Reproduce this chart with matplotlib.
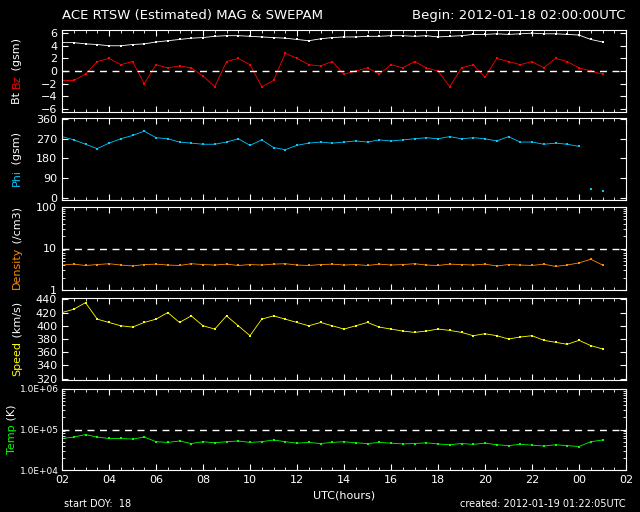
import numpy as np
import matplotlib
matplotlib.use("Agg")
import matplotlib.pyplot as plt
from matplotlib.ticker import FixedLocator, MultipleLocator, NullFormatter

hours = [i * 0.5 for i in range(47)]  # hours after 02 UTC
bt = [4.5,4.5,4.3,4.2,4.0,4.0,4.2,4.3,4.6,4.8,5.0,5.2,5.3,5.5,5.6,5.6,5.5,5.4,5.3,5.2,5.0,4.8,5.1,5.3,
      5.4,5.4,5.5,5.5,5.6,5.6,5.5,5.6,5.4,5.5,5.6,5.8,5.8,5.9,5.8,5.9,6.0,5.9,5.9,5.8,5.7,5.0,4.6]
bz = [-1.5,-1.5,-0.5,1.5,2.0,1.0,1.5,-2.0,1.0,0.5,0.8,0.5,-0.8,-2.5,1.5,2.0,1.0,-2.5,-1.5,2.8,2.0,1.0,0.8,1.5,
      -0.5,0.0,0.5,-0.5,1.0,0.5,1.5,0.5,0.0,-2.5,0.5,1.0,-1.0,2.0,1.5,1.0,1.5,0.5,2.0,1.5,0.5,0.0,-0.5]
phi = [280,265,245,225,250,270,285,305,275,270,255,250,245,245,255,270,240,265,230,220,240,250,255,250,
       255,260,255,265,260,265,270,275,270,280,270,275,270,260,280,255,255,245,250,245,235,40,30]
density = [4.0,4.2,3.9,4.1,4.3,4.0,3.8,4.1,4.2,4.0,3.9,4.3,4.1,4.0,4.2,3.9,4.1,4.0,4.2,4.3,4.0,3.9,4.1,4.2,
           4.0,4.1,3.9,4.2,4.0,4.1,4.3,4.0,3.9,4.2,4.1,4.0,4.2,3.8,4.1,4.0,3.9,4.2,3.7,4.0,4.5,5.5,4.0]
speed = [420,425,435,410,405,400,398,405,410,420,405,415,400,395,415,400,385,410,415,410,405,400,405,400,
         395,400,405,398,395,392,390,392,395,393,390,385,388,385,380,383,385,378,375,372,378,370,365]
temp = [6.0e4,6.5e4,7.5e4,6.5e4,6.0e4,6.0e4,5.8e4,6.5e4,5.0e4,4.8e4,5.2e4,4.5e4,5.0e4,4.7e4,5.0e4,5.2e4,
        4.8e4,5.0e4,5.5e4,5.0e4,4.6e4,4.8e4,4.5e4,4.8e4,5.0e4,4.7e4,4.5e4,4.8e4,4.6e4,4.4e4,4.5e4,4.7e4,
        4.4e4,4.2e4,4.5e4,4.3e4,4.6e4,4.2e4,4.0e4,4.3e4,4.1e4,3.9e4,4.2e4,4.0e4,3.8e4,5.0e4,5.5e4]
xticklabels = ["02","04","06","08","10","12","14","16","18","20","22","00","02"]

W, H = 640, 512
plt.rcParams["font.family"] = "DejaVu Sans"
fig = plt.figure(figsize=(6.4, 5.12), dpi=100, facecolor="black")
fs = 8

def mkax(top, bot):
    return fig.add_axes([62 / W, (H - bot) / H, 564 / W, (bot - top) / H], facecolor="black")

boxes = [(30, 112), (118, 200), (207, 290), (298, 380), (389, 470)]
axes = [mkax(t, b) for t, b in boxes]
for ax in axes:
    for s in ax.spines.values():
        s.set_color("white")
    ax.tick_params(colors="white", direction="in", top=True, right=True, labelsize=fs, which="both", length=4)
    ax.tick_params(which="minor", length=2)
    ax.set_xlim(0, 24)
    ax.set_xticks(np.arange(0, 25, 2))
    ax.xaxis.set_minor_locator(MultipleLocator(0.5))
    ax.set_xticklabels([])

ms = 2
a = axes[0]
a.plot(hours, bt, color="white", lw=0.6, marker="s", ms=ms, mew=0)
a.plot(hours, bz, color="red", lw=0.6, marker="s", ms=ms, mew=0)
a.axhline(0, color="white", ls=(0, (5, 4)), lw=1)
a.set_ylim(-6.5, 6.5)
a.set_yticks([-6, -4, -2, 0, 2, 4, 6])
a.set_yticklabels(["\u22126", "\u22124", "\u22122", "0", "2", "4", "6"])

a = axes[1]
a.plot(hours[:45], phi[:45], color="#00c8ff", lw=0.6, marker="s", ms=ms, mew=0)
a.plot(hours[45:], phi[45:], color="#00c8ff", lw=0, marker="s", ms=ms, mew=0)
a.set_ylim(-10, 365)
a.set_yticks([0, 90, 180, 270, 360])

a = axes[2]
a.plot(hours, density, color="#ff8c00", lw=0.6, marker="s", ms=ms, mew=0)
a.set_yscale("log")
a.set_ylim(1, 100)
a.axhline(10, color="white", ls=(0, (5, 4)), lw=1)
a.yaxis.set_major_locator(FixedLocator([1, 10, 100]))
a.set_yticklabels(["1", "10", "100"])
a.yaxis.set_minor_formatter(NullFormatter())

a = axes[3]
a.plot(hours, speed, color="yellow", lw=0.6, marker="s", ms=ms, mew=0)
a.set_ylim(318, 442)
a.set_yticks([320, 340, 360, 380, 400, 420, 440])

a = axes[4]
a.plot(hours, temp, color="#00ff00", lw=0.6, marker="s", ms=ms, mew=0)
a.set_yscale("log")
a.set_ylim(1e4, 1e6)
a.axhline(1e5, color="white", ls=(0, (5, 4)), lw=1)
a.yaxis.set_major_locator(FixedLocator([1e4, 1e5, 1e6]))
a.set_yticklabels(["1.0E+04", "1.0E+05", "1.0E+06"])
a.tick_params(axis="y", labelsize=6.5, pad=2)
a.yaxis.set_minor_formatter(NullFormatter())
a.set_xticklabels(xticklabels)
a.tick_params(axis="x", labelsize=fs)
a.set_xlabel("UTC(hours)", color="white", fontsize=fs)

renderer = fig.canvas.get_renderer()

def vlabel(parts, ycenter, x=17):
    texts = []
    for t, c in parts:
        texts.append(fig.text(0, 0, t, color=c, rotation=90, fontsize=fs, ha="center", va="bottom"))
    heights = [tx.get_window_extent(renderer).height for tx in texts]
    total = sum(heights)
    ybot = (H - ycenter) - total / 2
    for tx, h in zip(texts, heights):
        tx.set_position((x / W, ybot / H))
        ybot += h

vlabel([("Bt ", "white"), ("Bz", "red"), (" (gsm)", "white")], 71)
vlabel([("Phi", "#00c8ff"), (" (gsm)", "white")], 159)
vlabel([("Density", "#ff8c00"), (" (/cm3)", "white")], 248)
vlabel([("Speed", "yellow"), (" (km/s)", "white")], 339)
vlabel([("Temp", "#00ff00"), (" (K)", "white")], 429, x=12)

fig.text(62 / W, 1 - 19 / H, "ACE RTSW (Estimated) MAG & SWEPAM", color="white", fontsize=9.5)
fig.text(626 / W, 1 - 19 / H, "Begin: 2012-01-18 02:00:00UTC", color="white", fontsize=9.5, ha="right")
fig.text(64 / W, 1 - 507 / H, "start DOY:  18", color="white", fontsize=7)
fig.text(626 / W, 1 - 507 / H, "created: 2012-01-19 01:22:05UTC", color="white", fontsize=7, ha="right")

fig.savefig("out.png", dpi=100, facecolor="black")
